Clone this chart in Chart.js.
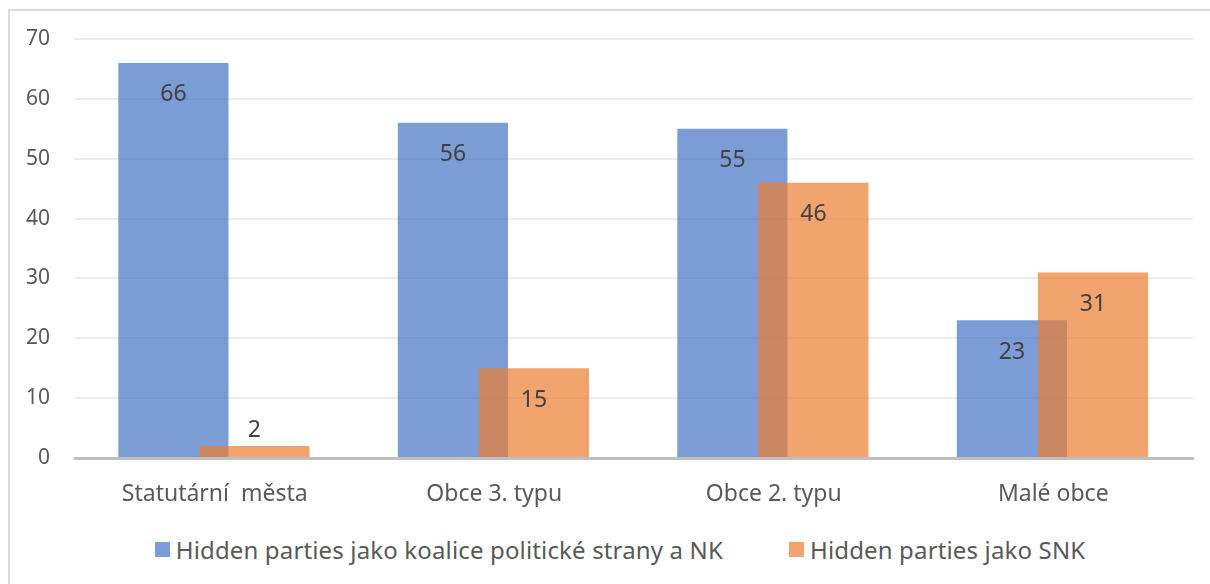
<!DOCTYPE html>
<html>
<head>
<meta charset="utf-8">
<script src="https://cdn.jsdelivr.net/npm/chart.js@4/dist/chart.umd.min.js"></script>
<style>
  body { margin: 0; background: #fff; font-family: "Noto Sans", sans-serif; }
  #wrap { position: relative; width: 1210px; height: 584px; overflow: hidden; }
  #frame { position: absolute; left: 8px; top: 9px; width: 1300px; height: 700px; border-left: 2px solid #d9d9d9; border-top: 2px solid #d9d9d9; }
  #chart { position: absolute; left: 0; top: 0; }
  #legend { position: absolute; left: 15px; top: 533px; width: 1210px; display: flex; justify-content: center; color: #595959; font-size: 24px; letter-spacing: 0.15px; }
  #legend .item { display: flex; align-items: center; margin: 0 33px; }
  #legend .box { width: 15px; height: 15px; margin-right: 6px; }
</style>
</head>
<body>
<div id="wrap">
  <div id="frame"></div>
  <canvas id="chart" width="1210" height="530"></canvas>
  <div id="legend"></div>
</div>
<script>
// data
var categories = ['Statutární  města', 'Obce 3. typu', 'Obce 2. typu', 'Malé obce'];
var koaliceValues = [66, 56, 55, 23];
var snkValues = [2, 15, 46, 31];
var seriesNames = ['Hidden parties jako koalice politické strany a NK', 'Hidden parties jako SNK'];
var yTicks = [0, 10, 20, 30, 40, 50, 60, 70];

var blue = 'rgba(68, 114, 196, 0.7)';
var orange = 'rgba(237, 125, 49, 0.7)';

// Excel-like overlapping bars: shift each series off the category centre
var shiftPlugin = {
  id: 'shift',
  afterDatasetsUpdate: function(chart) {
    var xs = chart.scales.x;
    var step = (xs.right - xs.left) / categories.length;
    var shifts = [-0.148, 0.142];
    chart.data.datasets.forEach(function(ds, i) {
      chart.getDatasetMeta(i).data.forEach(function(bar) {
        bar.x += shifts[i] * step;
      });
    });
  }
};

// value labels (inside end, or above when the bar is too short)
var labelPlugin = {
  id: 'valueLabels',
  afterDatasetsDraw: function(chart) {
    var ctx = chart.ctx;
    ctx.save();
    ctx.font = '23px "Noto Sans", sans-serif';
    ctx.fillStyle = '#404040';
    ctx.textAlign = 'center';
    ctx.textBaseline = 'middle';
    chart.data.datasets.forEach(function(ds, i) {
      chart.getDatasetMeta(i).data.forEach(function(bar, j) {
        var h = bar.base - bar.y;
        var y = h > 45 ? bar.y + 32 : bar.y - 16;
        ctx.fillText(String(ds.data[j]), bar.x, y);
      });
    });
    ctx.restore();
  }
};

var chart = new Chart(document.getElementById('chart'), {
  type: 'bar',
  data: {
    labels: categories,
    datasets: [
      { label: seriesNames[0], data: koaliceValues, backgroundColor: blue, order: 1 },
      { label: seriesNames[1], data: snkValues, backgroundColor: orange, order: 0 }
    ]
  },
  options: {
    responsive: false,
    animation: false,
    events: [],
    layout: { padding: { top: 39, right: 17, left: 0, bottom: 0 } },
    datasets: {
      bar: { grouped: false, barPercentage: 0.394, categoryPercentage: 1 }
    },
    plugins: {
      legend: { display: false },
      tooltip: { enabled: false }
    },
    scales: {
      x: {
        grid: { display: false, drawTicks: false },
        border: { color: '#bfbfbf', width: 3 },
        ticks: { color: '#595959', font: { family: 'Noto Sans', size: 23 }, padding: 23, maxRotation: 0 },
        afterFit: function(s) { s.height = 72; }
      },
      y: {
        min: 0,
        max: 70,
        afterBuildTicks: function(s) { s.ticks = yTicks.map(function(v) { return { value: v }; }); },
        grid: { color: '#ececec', lineWidth: 2, drawTicks: false },
        border: { display: false },
        ticks: { color: '#595959', font: { family: 'Noto Sans', size: 21 }, padding: 25 },
        afterFit: function(s) { s.width = 75; }
      }
    }
  },
  plugins: [shiftPlugin, labelPlugin]
});

// html legend
var legendEl = document.getElementById('legend');
chart.data.datasets.forEach(function(ds) {
  var item = document.createElement('div');
  item.className = 'item';
  var box = document.createElement('span');
  box.className = 'box';
  box.style.background = ds.backgroundColor;
  var txt = document.createElement('span');
  txt.textContent = ds.label;
  item.appendChild(box);
  item.appendChild(txt);
  legendEl.appendChild(item);
});
</script>
</body>
</html>
